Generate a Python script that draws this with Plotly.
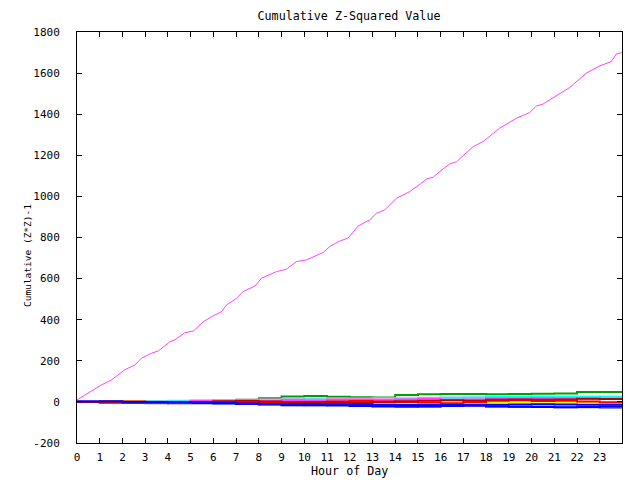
import plotly.graph_objects as go

# Main (rising) series
big_hours = [0, 0.5, 1.08, 1.52, 2.1, 2.55, 2.84, 3.28, 3.58, 4.09, 4.31, 4.75, 5.12, 5.56, 5.92,
             6.36, 6.58, 7.0, 7.31, 7.83, 8.12, 8.78, 9.22, 9.66, 10.1, 10.83, 11.12, 11.56, 11.93,
             12.37, 12.88, 13.18, 13.54, 14.05, 14.64, 15.1, 15.4, 15.67, 15.96, 16.4, 16.7, 17.43,
             17.87, 18.6, 19.33, 19.92, 20.21, 20.5, 21.68, 22.41, 23.0, 23.51, 23.73, 23.98]
big_values = [10, 45, 83, 107, 156, 180, 213, 237, 248, 293, 302, 337, 345, 390, 415, 439, 472, 502,
              537, 564, 602, 634, 646, 683, 691, 727, 756, 783, 797, 856, 886, 918, 934, 991, 1023,
              1060, 1086, 1093, 1121, 1158, 1169, 1242, 1267, 1332, 1380, 1408, 1440, 1449, 1530,
              1600, 1635, 1656, 1693, 1700]

# Near-zero series (hourly step values)
small_hours = list(range(24)) + [23.98]
green = [0, -4, -4, -3, 0, 2, 3, 10, 18, 26, 29, 25, 23, 22, 33, 37, 39, 39, 37, 39, 40, 41, 48, 48, 50]
blue = [3, 3, 0, -2, -3, -3, -5, -8, -10, -10, -10, -12, -14, -14, -15, -15, -15, -15, -14, -13, -12, -13, -14, -14, -15]
darkred = [0, 2, 2, 0, -2, 0, 3, 5, 2, -2, 0, -3, -5, 0, 3, 5, 8, 5, 10, 12, 10, 12, 15, 14, 10]
yellow = [0, 2, 2, -2, -3, 0, -2, -4, -8, -6, -3, -2, 0, -5, -10, -8, -6, -4, -2, -3, -6, -4, -2, -3, -4]
cyan = [0, -2, -2, 2, 3, 5, 8, 6, 5, 10, 12, 8, 6, 9, 12, 15, 20, 22, 24, 24, 26, 26, 25, 24, 26]
pinkish = [0, 0, 0, -2, 0, 5, 3, 2, 4, 8, 6, 10, 10, 8, 12, 15, 10, 12, 16, 15, 18, 16, 15, 14, 16]
lightblue = [0, -2, -4, -6, -3, -2, -6, -10, -14, -18, -16, -14, -16, -20, -20, -22, -18, -20, -22, -25, -24, -26, -26, -28, -30]
red = [0, 0, -2, -3, -2, 0, 0, -3, -5, -2, 0, 2, 4, 2, 0, -3, -6, -2, 5, 8, 4, 6, 2, -2, -5]
pink = [0, 1, 3, 4, 5, 6, 8, 10, 12, 14, 15, 16, 16, 18, 18, 20, 21, 22, 22, 23, 24, 24, 25, 26, 27]
blue2 = [0, -3, -5, -5, -6, -7, -8, -10, -12, -15, -16, -18, -20, -22, -23, -22, -20, -18, -22, -24, -25, -26, -25, -22, -20]

small_series = [
    (green, "#00a000"), (lightblue, "#6060ff"), (blue2, "#0000ff"), (pink, "#ff90ff"),
    (cyan, "#00ffff"), (yellow, "#ffff00"), (pinkish, "#ff40ff"), (red, "#ff0000"),
    (darkred, "#c00000"), (blue, "#0000ff"),
]

x_ticks = list(range(24))
y_ticks = list(range(-200, 1801, 200))

fig = go.Figure()
for vals, col in small_series:
    fig.add_trace(go.Scatter(x=small_hours, y=vals, mode="lines", line_shape="hv",
                             line=dict(color=col, width=2), showlegend=False))
fig.add_trace(go.Scatter(x=big_hours, y=big_values, mode="lines",
                         line=dict(color="#ff44ff", width=1), showlegend=False))

FAM = "DejaVu Sans Mono"
font = dict(family=FAM, size=11.5, color="black")
tickfont = dict(family=FAM, size=11, color="black")

# Page has an 8px body margin, so figure coords = screen coords - 8
L, R, T, B = 69, 614, 24, 435
fig.update_layout(
    width=640, height=480,
    margin=dict(l=L, r=640 - R, t=T, b=480 - B),
    paper_bgcolor="white", plot_bgcolor="white",
    font=font,
    title=dict(text="Cumulative Z-Squared Value", x=341 / 640, xanchor="center",
               y=1 - 8 / 480, yanchor="middle", font=dict(family=FAM, size=11.7, color="black")),
    xaxis=dict(range=[0, 23.98], tickvals=x_ticks, ticktext=[str(t) for t in x_ticks],
               ticks="inside", ticklen=5, tickcolor="black", showline=True, linecolor="black",
               linewidth=1, mirror="ticks", showgrid=False, zeroline=False,
               ticklabelstandoff=4, tickfont=tickfont),
    yaxis=dict(range=[-200, 1800], tickvals=y_ticks, ticktext=[str(t) for t in y_ticks],
               ticks="inside", ticklen=5, tickcolor="black", showline=True, linecolor="black",
               linewidth=1, mirror="ticks", showgrid=False, zeroline=False,
               ticklabelstandoff=14, tickfont=tickfont),
    annotations=[
        dict(text="Hour of Day", xref="paper", yref="paper",
             x=(341 - L) / (R - L), y=(B - 463) / (B - T), xanchor="center", yanchor="middle",
             showarrow=False, font=dict(family=FAM, size=11.7, color="black")),
        dict(text="Cumulative (Z*Z)-1", xref="paper", yref="paper", textangle=-90,
             x=(19 - L) / (R - L), y=(B - 248) / (B - T), xanchor="center", yanchor="middle",
             showarrow=False, font=dict(family=FAM, size=9.5, color="black")),
    ],
)

fig.write_html("out.html")
